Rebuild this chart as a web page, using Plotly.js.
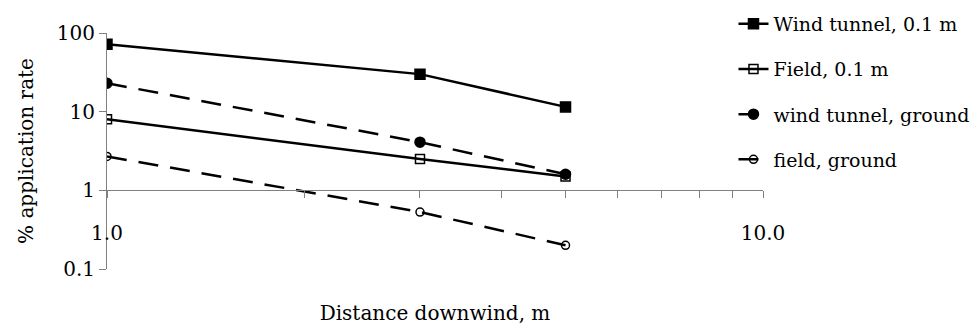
<!DOCTYPE html>
<html>
<head>
<meta charset="utf-8">
<script src="https://cdn.plot.ly/plotly-3.0.1.min.js"></script>
<style>html,body{margin:0;padding:0;background:#fff;}#chart{width:970px;height:328px;}</style>
</head>
<body>
<div id="chart"></div>
<script>
var distances = [1, 3, 5];
var windTunnel01 = [72, 30, 11.5];
var field01 = [8.0, 2.5, 1.5];
var windTunnelGround = [23, 4.1, 1.6];
var fieldGround = [2.7, 0.53, 0.2];
var seriesNames = ['Wind tunnel, 0.1 m', 'Field, 0.1 m', 'wind tunnel, ground', 'field, ground'];
var xTickVals = [1, 2, 3, 4, 5, 6, 7, 8, 9, 10];
var xTickText = ['1.0', '', '', '', '', '', '', '', '', '10.0'];
var yTickVals = [0.1, 1, 10, 100];
var yTickText = ['0.1', '1', '10', '100'];

var FONT = 'DejaVu Serif';
var FS = 20;

function tr(y, name, dash, symbol, size, group) {
  return {
    x: distances, y: y, name: name, type: 'scatter', mode: 'lines+markers',
    legendgroup: group,
    line: {color: '#000', width: 2.5, dash: dash},
    marker: {symbol: symbol, size: size, color: '#000', line: {color: '#000', width: 1.5}}
  };
}

var data = [
  tr(windTunnel01, seriesNames[0], 'solid', 'square', 10, 'a'),
  tr(field01, seriesNames[1], 'solid', 'square-open', 9, 'b'),
  tr(windTunnelGround, seriesNames[2], '20px,12px', 'circle', 10, 'c'),
  tr(fieldGround, seriesNames[3], '20px,12px', 'circle-open', 8, 'd')
];

var layout = {
  width: 970, height: 328,
  margin: {l: 107, r: 207, t: 33, b: 59, autoexpand: false},
  paper_bgcolor: '#fff', plot_bgcolor: '#fff',
  font: {family: FONT, size: FS, color: '#000'},
  showlegend: true,
  legend: {x: 0.955, xanchor: 'left', y: 1.119, yanchor: 'top', xref: 'paper', yref: 'paper',
           font: {family: FONT, size: 19, color: '#000'}, tracegroupgap: 17.5, traceorder: 'grouped',
           bgcolor: 'rgba(0,0,0,0)', maxheight: 300},
  xaxis: {
    type: 'log', range: [0, 1], autorange: false,
    anchor: 'free', position: 1/3,
    showline: true, linecolor: '#808080', linewidth: 1,
    showgrid: false, zeroline: false,
    tickmode: 'array', tickvals: xTickVals, ticktext: xTickText,
    ticks: 'outside', ticklen: 7, tickcolor: '#808080', tickwidth: 1,
    ticklabelstandoff: 18,
    tickfont: {family: FONT, size: FS, color: '#000'},
    title: {text: 'Distance downwind, m', font: {family: FONT, size: FS, color: '#000'}, standoff: 61},
    automargin: false
  },
  yaxis: {
    type: 'log', range: [-1, 2], autorange: false,
    showline: true, linecolor: '#808080', linewidth: 1,
    showgrid: false, zeroline: false,
    tickmode: 'array', tickvals: yTickVals, ticktext: yTickText,
    ticks: 'outside', ticklen: 7, tickcolor: '#808080', tickwidth: 1,
    tickfont: {family: FONT, size: FS, color: '#000'},
    title: {text: '% application rate', font: {family: FONT, size: FS, color: '#000'}, standoff: 17},
    automargin: false
  }
};

Plotly.newPlot('chart', data, layout, {displayModeBar: false, staticPlot: true});
</script>
</body>
</html>
